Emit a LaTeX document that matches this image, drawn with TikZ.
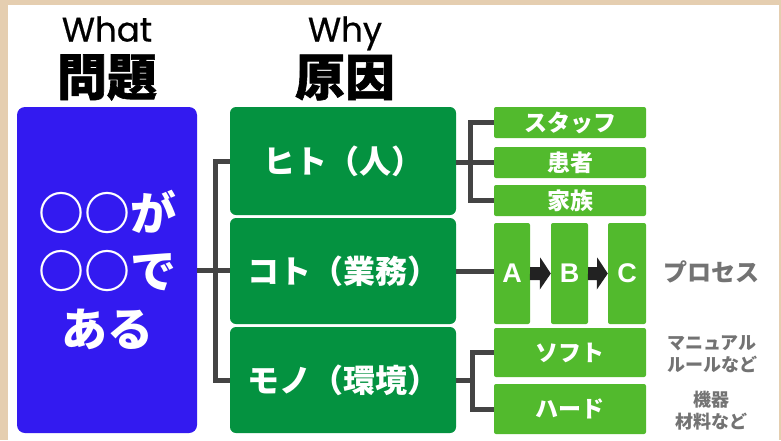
\documentclass[tikz,border=0pt]{standalone}
\usepackage{fontspec}
\setmainfont{Noto Sans CJK JP}
\newfontfamily\latinhead{Poppins}
\newfontfamily\arialfont{Liberation Sans}
\definecolor{qbg}{RGB}{229,206,176}
\definecolor{qblue}{RGB}{51,26,240}
\definecolor{qdark}{RGB}{4,146,64}
\definecolor{qlite}{RGB}{82,186,45}
\definecolor{qline}{RGB}{68,68,68}
\definecolor{qarrow}{RGB}{34,34,34}
\definecolor{qgrey}{RGB}{115,115,115}
\begin{document}
\begin{tikzpicture}[x=1pt,y=-1pt,
  bluebox/.style={fill=qblue, rounded corners=8pt, minimum width=180pt, minimum height=326pt, inner sep=0pt, text=white, align=center, font=\bfseries\fontsize{46}{58}\selectfont},
  darkbox/.style={fill=qdark, rounded corners=6pt, minimum width=226pt, inner sep=0pt, text=white, font=\bfseries\fontsize{32}{36}\selectfont},
  litebox/.style={fill=qlite, rounded corners=2pt, minimum width=152pt, inner sep=0pt, text=white, font=\bfseries\fontsize{23}{26}\selectfont},
  letterbox/.style={fill=qlite, rounded corners=2pt, inner sep=0pt, minimum height=101pt, text=white, font=\arialfont\bfseries\fontsize{27}{30}\selectfont},
  conn/.style={draw=qline, line width=5pt},
  blockarrow/.style={fill=qarrow},
  headsmall/.style={anchor=base, inner sep=0pt, font=\latinhead\addfontfeatures{FakeBold=0.6}\fontsize{34}{38}\selectfont},
  headbig/.style={inner sep=0pt, font=\bfseries\addfontfeatures{FakeBold=1.2}\fontsize{50}{54}\selectfont},
  greynote/.style={text=qgrey, align=center, inner sep=0pt, font=\bfseries\fontsize{18}{22}\selectfont},
]
\useasboundingbox (0,0) rectangle (781,440);
\fill[qbg] (0,0) rectangle (781,440);
\fill[white] (8,5) rectangle (779,440);

% headers
\node[headsmall] (what) at (107,41.5) {What};
\node[headbig] (mondai) at (107,77.5) {問題};
\node[headsmall] (why) at (345,41.5) {Why};
\node[headbig] (genin) at (345,77.5) {原因};

% main boxes
\node[bluebox] (blue) at (107,270) {○○が\\○○で\\ある};
\node[darkbox, minimum height=108pt] (g1) at (343,161) {ヒト（人）};
\node[darkbox, minimum height=106pt] (g2) at (343,271) {コト（業務）};
\node[darkbox, minimum height=106pt] (g3) at (343,380) {モノ（環境）};

% right boxes
\node[litebox, minimum height=31pt] (staff) at (570,122.5) {スタッフ};
\node[litebox, minimum height=31pt] (kanja) at (570,162.5) {患者};
\node[litebox, minimum height=31pt] (kazoku) at (570,200.5) {家族};
\node[letterbox, minimum width=36pt] (A) at (512,273.5) {A};
\node[letterbox, minimum width=37pt] (B) at (569.5,273.5) {B};
\node[letterbox, minimum width=38pt] (C) at (627,273.5) {C};
\node[litebox, minimum height=49pt] (soft) at (570,352.5) {ソフト};
\node[litebox, minimum height=50pt] (hard) at (570,409) {ハード};

% notes
\node[text=qgrey, inner sep=0pt, font=\bfseries\fontsize{24}{26}\selectfont] (process) at (711,272) {プロセス};
\node[greynote] (manual) at (712,354) {マニュアル\\ルールなど};
\node[greynote] (kiki) at (711,411) {機器\\材料など};

% connectors
\coordinate (j1) at (215,270);
\coordinate (j2) at (470,161);
\coordinate (j3) at (472,380);
\draw[conn] (blue.east) -- (blue.east -| g2.west);
\draw[conn] (g1.west) -- (g1.west -| j1) -- (g3.west -| j1) -- (g3.west);
\draw[conn] (kanja.west -| g1.east) -- (kanja.west);
\draw[conn] (staff.west) -- (staff.west -| j2) -- (kazoku.west -| j2) -- (kazoku.west);
\draw[conn] (g2.east) -- (g2.east -| A.west);
\draw[conn] (g3.east) -- (g3.east -| j3);
\draw[conn] (soft.west) -- (soft.west -| j3) -- (hard.west -| j3) -- (hard.west);

% block arrows
\fill[blockarrow] (A.east) ++(0,-6.5) -- ++(10,0) -- ++(0,-9.5) -- (B.west) -- ++(-11,16) -- ++(0,-9.5) -- ++(-10,0) -- cycle;
\fill[blockarrow] (B.east) ++(0,-6.5) -- ++(9,0) -- ++(0,-9.5) -- (C.west) -- ++(-11,16) -- ++(0,-9.5) -- ++(-9,0) -- cycle;
\end{tikzpicture}
\end{document}
